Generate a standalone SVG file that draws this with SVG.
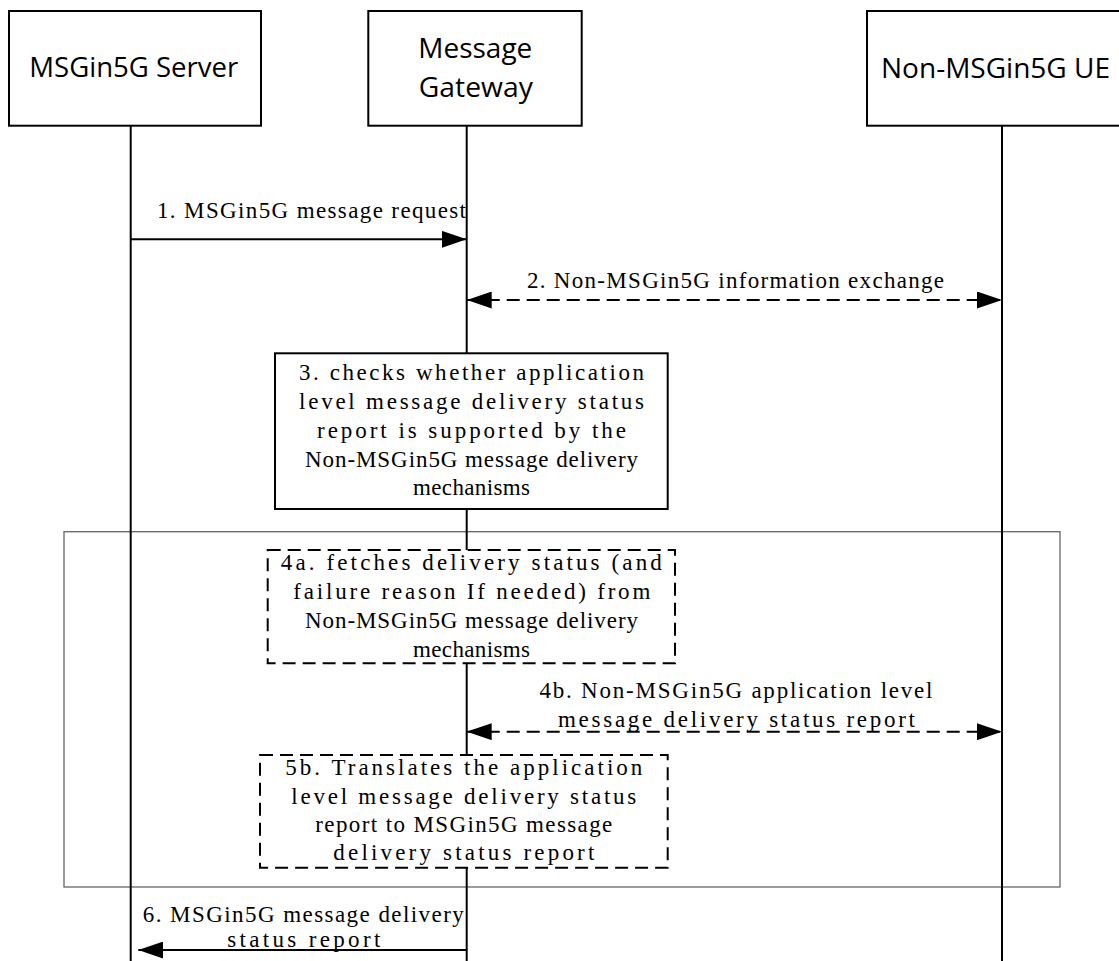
<svg xmlns="http://www.w3.org/2000/svg" width="1119" height="961" viewBox="0 0 1119 961">
<style>
.hdr{fill:#fff;stroke:#000;stroke-width:2}
.ht{font-family:"Open Sans","Noto Sans","Liberation Sans",sans-serif;font-size:27px;fill:#000;text-anchor:middle}
.t{font-family:"Liberation Serif","DejaVu Serif",serif;font-size:23px;fill:#000;text-anchor:middle}
.life{stroke:#000;stroke-width:2;fill:none}
.box{fill:#fff;stroke:#000;stroke-width:2}
.dbox{fill:#fff;stroke:#000;stroke-width:2;stroke-dasharray:13,7}
.msg{stroke:#000;stroke-width:2;fill:none}
.dmsg{stroke:#000;stroke-width:2;fill:none;stroke-dasharray:13,7}
.frame{fill:none;stroke:#666;stroke-width:1.3}
</style>
<defs>
<marker id="ah" viewBox="0 0 25 17" refX="25" refY="8.5" markerWidth="25" markerHeight="17" markerUnits="userSpaceOnUse" orient="auto-start-reverse">
<path d="M0,0 L25,8.5 L0,17 Z" fill="#000"/>
</marker>
</defs>

<rect id="frame" class="frame" x="64" y="531.7" width="996" height="355.3"/>

<g id="lifelines">
<line class="life" x1="130.7" y1="125.7" x2="130.7" y2="961"/>
<line class="life" x1="466.7" y1="125.7" x2="466.7" y2="961"/>
<line class="life" x1="1002" y1="125.7" x2="1002" y2="961"/>
</g>

<g id="server">
<rect class="hdr" x="9" y="11" width="252" height="114.7"/>
<text class="ht" x="133.8" y="77.3" textLength="209" lengthAdjust="spacingAndGlyphs">MSGin5G Server</text>
</g>
<g id="gateway">
<rect class="hdr" x="368.3" y="11" width="213.4" height="114.7"/>
<text class="ht" x="475.3" y="58.3" textLength="114" lengthAdjust="spacingAndGlyphs">Message</text>
<text class="ht" x="475.8" y="96.7" textLength="114" lengthAdjust="spacingAndGlyphs">Gateway</text>
</g>
<g id="ue">
<rect class="hdr" x="867" y="11" width="258" height="114.7"/>
<text class="ht" x="995.5" y="78.3" textLength="229" lengthAdjust="spacingAndGlyphs">Non-MSGin5G UE</text>
</g>

<g id="connectors">
<line class="msg" x1="130.7" y1="239.3" x2="466.7" y2="239.3" marker-end="url(#ah)"/>
<line class="dmsg" x1="466.7" y1="300" x2="1002" y2="300" marker-start="url(#ah)" marker-end="url(#ah)"/>
<line class="dmsg" x1="466.7" y1="731.7" x2="1002" y2="731.7" marker-start="url(#ah)" marker-end="url(#ah)"/>
<line class="msg" x1="466.7" y1="950" x2="138.3" y2="950" marker-end="url(#ah)"/>
</g>

<g id="labels">
<text class="t" x="311.5" y="218.3" textLength="309" lengthAdjust="spacing">1. MSGin5G message request</text>
<text class="t" x="735.5" y="287.5" textLength="417" lengthAdjust="spacing">2. Non-MSGin5G information exchange</text>
<text class="t" x="736" y="698" textLength="393" lengthAdjust="spacing">4b. Non-MSGin5G application level</text>
<text class="t" x="736.5" y="727" textLength="357" lengthAdjust="spacing">message delivery status report</text>
<text class="t" x="303.3" y="921.7" textLength="321" lengthAdjust="spacing">6. MSGin5G message delivery</text>
<text class="t" x="303.8" y="947" textLength="153" lengthAdjust="spacing">status report</text>
</g>

<g id="step3">
<rect class="box" x="275" y="353.3" width="392.7" height="155.7"/>
<text class="t" x="471.5" y="380" textLength="345" lengthAdjust="spacing">3. checks whether application</text>
<text class="t" x="471.5" y="409" textLength="345" lengthAdjust="spacing">level message delivery status</text>
<text class="t" x="471.5" y="438" textLength="309" lengthAdjust="spacing">report is supported by the</text>
<text class="t" x="471.5" y="466.5" textLength="333" lengthAdjust="spacing">Non-MSGin5G message delivery</text>
<text class="t" x="471.5" y="495" textLength="117" lengthAdjust="spacing">mechanisms</text>
</g>

<g id="step4a">
<rect class="dbox" x="267.7" y="550" width="407.3" height="113.3"/>
<text class="t" x="471.3" y="570" textLength="381" lengthAdjust="spacing">4a. fetches delivery status (and</text>
<text class="t" x="471.8" y="599" textLength="357" lengthAdjust="spacing">failure reason If needed) from</text>
<text class="t" x="471.5" y="628" textLength="333" lengthAdjust="spacing">Non-MSGin5G message delivery</text>
<text class="t" x="471.5" y="656.5" textLength="117" lengthAdjust="spacing">mechanisms</text>
</g>

<g id="step5b">
<rect class="dbox" x="260" y="755" width="407.7" height="112.7"/>
<text class="t" x="463.8" y="775" textLength="357" lengthAdjust="spacing">5b. Translates the application</text>
<text class="t" x="463.8" y="803.5" textLength="345" lengthAdjust="spacing">level message delivery status</text>
<text class="t" x="463.8" y="832" textLength="297" lengthAdjust="spacing">report to MSGin5G message</text>
<text class="t" x="463.8" y="860" textLength="261" lengthAdjust="spacing">delivery status report</text>
</g>
</svg>
